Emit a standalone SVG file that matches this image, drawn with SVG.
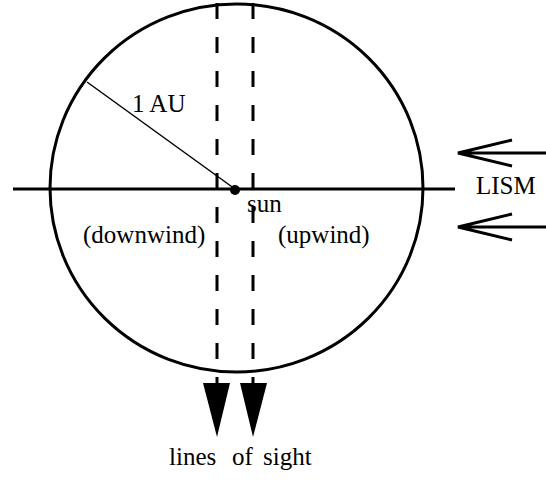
<svg xmlns="http://www.w3.org/2000/svg" width="546" height="481" viewBox="0 0 546 481">
<style>
.t{font-family:"Liberation Serif","Times New Roman",serif;font-size:25px;fill:#000}
.thick{stroke:#000;stroke-width:3;fill:none}
.dash{stroke:#000;stroke-width:3;fill:none;stroke-dasharray:16 18}
.thin{stroke:#000;stroke-width:1.5;fill:none}
</style>
<rect width="546" height="481" fill="#fff"/>
<g id="orbit">
<ellipse class="thick" cx="236.5" cy="188" rx="186.5" ry="184"/>
</g>
<g id="sun">
<circle cx="235" cy="190" r="5" fill="#000"/>
<text class="t" x="247" y="212">sun</text>
</g>
<g id="connectors">
<line class="thick" x1="13" y1="189" x2="455" y2="189"/>
<line class="thin" x1="87" y1="82" x2="235" y2="189"/>
<line class="dash" x1="217" y1="3" x2="217" y2="384"/>
<line class="dash" x1="253" y1="3" x2="253" y2="384"/>
<polygon points="203,383 230,383 217,437" fill="#000"/>
<polygon points="240,383 267,383 253,437" fill="#000"/>
<path class="thick" d="M458,153 H546 M512,140 L458,153 L512,166"/>
<path class="thick" d="M458,227 H546 M512,214 L458,227 L512,240"/>
</g>
<g id="labels">
<text class="t" x="132" y="112">1 AU</text>
<text class="t" x="83" y="243">(downwind)</text>
<text class="t" x="278" y="243">(upwind)</text>
<text class="t" x="476" y="194">LISM</text>
<text class="t" y="465"><tspan x="169">lines</tspan><tspan x="232">of</tspan><tspan x="263">sight</tspan></text>
</g>
</svg>
